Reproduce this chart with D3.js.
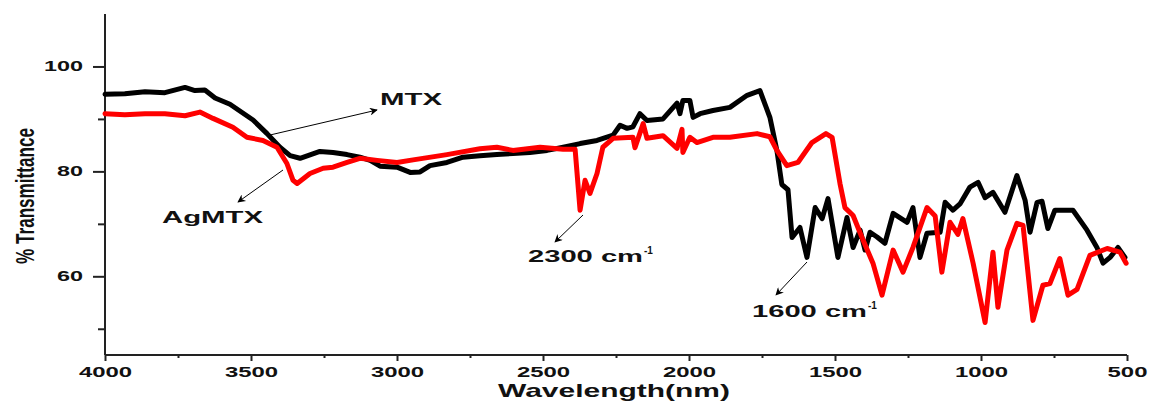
<!DOCTYPE html>
<html>
<head>
<meta charset="utf-8">
<script src="https://cdn.jsdelivr.net/npm/d3@7"></script>
<style>
  html, body { margin: 0; padding: 0; background: #fff; }
  svg { display: block; }
  text { font-family: "Liberation Sans", Arial, sans-serif; }
</style>
</head>
<body>
<svg id="chart" width="1149" height="409"></svg>
<script>
// ---- data (wavenumber, % transmittance) ----
const mtxWave = [4000,3932,3863,3795,3726,3692,3658,3623,3572,3493,3445,3401,3366,3332,3264,3219,3171,3127,3092,3058,3000,2955,2921,2887,2829,2774,2716,2658,2603,2545,2486,2431,2373,2315,2260,2236,2212,2192,2168,2144,2089,2041,2031,2021,1997,1986,1962,1918,1860,1801,1757,1723,1699,1682,1661,1647,1620,1596,1568,1544,1524,1490,1459,1438,1414,1397,1380,1356,1329,1301,1253,1233,1209,1185,1140,1123,1096,1072,1038,1010,986,959,918,877,849,832,808,791,771,747,685,637,603,582,558,531,507];
const mtxValue = [94.7,94.8,95.2,95.0,96.0,95.4,95.5,94.0,92.8,89.8,87.2,84.6,83.0,82.5,83.8,83.6,83.2,82.7,82.1,81.0,80.8,79.8,79.9,81.1,81.7,82.7,83.0,83.2,83.4,83.6,84.0,84.6,85.3,85.9,86.9,88.8,88.2,88.5,91.0,89.7,90.0,93.0,91.0,93.5,93.5,90.3,91.0,91.6,92.2,94.5,95.4,90.3,84.0,77.5,76.5,67.4,69.3,63.6,73.1,71.0,74.8,63.6,71.2,65.5,68.8,65.0,68.4,67.5,66.3,72.0,70.3,73.1,63.6,68.2,68.4,74.1,72.6,73.8,77.0,77.9,75.0,76.0,72.2,79.2,74.5,68.4,74.1,74.3,69.1,72.6,72.6,68.8,65.5,62.5,63.6,65.5,63.6];

const agWave = [4000,3932,3863,3795,3726,3675,3630,3562,3514,3459,3411,3377,3356,3342,3298,3253,3219,3171,3127,3068,3000,2945,2829,2716,2658,2603,2510,2431,2390,2373,2356,2339,2315,2295,2260,2192,2185,2157,2144,2089,2041,2024,2021,1997,1973,1918,1860,1767,1723,1699,1665,1627,1579,1531,1510,1483,1466,1438,1404,1370,1339,1301,1267,1233,1185,1157,1134,1106,1079,1062,1027,986,959,942,911,877,856,822,788,764,730,702,671,627,568,524,503];
const agValue = [91.0,90.8,91.0,91.0,90.6,91.3,90.1,88.4,86.5,85.9,84.6,81.5,78.3,77.7,79.6,80.6,80.8,81.7,82.5,82.1,81.7,82.2,83.2,84.3,84.6,84.0,84.6,84.2,84.2,72.6,78.3,75.8,79.6,84.6,86.3,86.5,84.5,89.1,86.3,86.8,84.4,88.0,83.6,86.5,85.5,86.5,86.5,87.2,86.6,84.0,81.1,81.7,85.5,87.2,86.5,77.7,73.1,71.6,66.9,62.5,56.4,65.0,60.8,65.5,73.1,71.5,60.8,70.3,68.0,71.0,62.5,51.2,64.6,54.1,65.0,70.1,69.7,51.6,58.3,58.6,63.4,56.4,57.5,64.0,65.3,64.6,62.5];

const xMajorTicks = [4000,3500,3000,2500,2000,1500,1000,500];
const xMinorTicks = [3750,3250,2750,2250,1750,1250,750];
const yMajorTicks = [100,80,60];
const yMinorTicks = [90,70,50];

const annotations = [
  {label:"MTX", sup:"", x:380, y:105, w:62, from:[270,135], to:[377,110]},
  {label:"AgMTX", sup:"", x:162, y:223, w:101, from:[283,170], to:[238,202]},
  {label:"2300 cm", sup:"-1", x:528, y:262, w:115, from:[583,215], to:[555,242]},
  {label:"1600 cm", sup:"-1", x:752, y:317, w:115, from:[807,262], to:[776,295]}
];

// ---- layout ----
const svg = d3.select("#chart");
const x = d3.scaleLinear().domain([4000, 500]).range([105, 1127]);
const y = d3.scaleLinear().domain([45, 110]).range([355, 14]);

svg.append("defs").append("marker")
  .attr("id", "arrow").attr("viewBox", "0 0 10 10")
  .attr("refX", 9).attr("refY", 5)
  .attr("markerWidth", 12).attr("markerHeight", 8)
  .attr("markerUnits", "userSpaceOnUse")
  .attr("orient", "auto")
  .append("path").attr("d", "M0,0 L10,5 L0,10 L3,5 Z").attr("fill", "#000");

// axes
const yAxisG = svg.append("g").attr("transform", "translate(105,0)")
  .call(d3.axisLeft(y).tickValues(yMajorTicks).tickSize(12).tickPadding(10).tickFormat(d3.format("d")));
svg.append("g").attr("transform", "translate(105,0)")
  .call(d3.axisLeft(y).tickValues(yMinorTicks).tickSize(7).tickFormat(""))
  .select(".domain").remove();

const xAxisG = svg.append("g").attr("transform", "translate(0,355)")
  .call(d3.axisBottom(x).tickValues(xMajorTicks).tickSize(6).tickPadding(6).tickFormat(d3.format("d")));
svg.append("g").attr("transform", "translate(0,355)")
  .call(d3.axisBottom(x).tickValues(xMinorTicks).tickSize(3).tickFormat(""))
  .select(".domain").remove();

svg.selectAll(".domain").attr("stroke", "#222").attr("stroke-width", 2);
svg.selectAll(".tick line").attr("stroke", "#222").attr("stroke-width", 2);
yAxisG.select(".domain").attr("d", `M0,${y(45)}V${y(110)}`);
xAxisG.select(".domain").attr("d", `M${x(4000)},0H${x(500)}`);

yAxisG.selectAll(".tick text")
  .attr("font-size", 14).attr("font-weight", "bold").attr("fill", "#111")
  .attr("font-family", "Liberation Sans, Arial, sans-serif")
  .attr("textLength", d => String(d).length * 13)
  .attr("lengthAdjust", "spacingAndGlyphs");
xAxisG.selectAll(".tick text")
  .attr("font-size", 14).attr("font-weight", "bold").attr("fill", "#111")
  .attr("font-family", "Liberation Sans, Arial, sans-serif")
  .attr("textLength", d => String(d).length * 13.3)
  .attr("lengthAdjust", "spacingAndGlyphs");

// axis titles
svg.append("text")
  .attr("x", 614).attr("y", 397).attr("text-anchor", "middle")
  .attr("font-size", 19).attr("font-weight", "bold").attr("fill", "#111")
  .attr("textLength", 232).attr("lengthAdjust", "spacingAndGlyphs")
  .text("Wavelength(nm)");
svg.append("text")
  .attr("transform", "translate(34,196) rotate(-90)")
  .attr("text-anchor", "middle")
  .attr("font-size", 26).attr("fill", "#111").attr("font-weight", "bold")
  .attr("textLength", 136).attr("lengthAdjust", "spacingAndGlyphs")
  .text("% Transmittance");

// lines
const line = d3.line().x(d => x(d[0])).y(d => y(d[1]));
const mtx = mtxWave.map((w, i) => [w, mtxValue[i]]);
const ag = agWave.map((w, i) => [w, agValue[i]]);

svg.append("path").datum(mtx).attr("d", line)
  .attr("fill", "none").attr("stroke", "#000").attr("stroke-width", 5)
  .attr("stroke-linejoin", "round").attr("stroke-linecap", "round");
svg.append("path").datum(ag).attr("d", line)
  .attr("fill", "none").attr("stroke", "#ff0000").attr("stroke-width", 5)
  .attr("stroke-linejoin", "round").attr("stroke-linecap", "round");

// annotations
annotations.forEach(a => {
  svg.append("line")
    .attr("x1", a.from[0]).attr("y1", a.from[1])
    .attr("x2", a.to[0]).attr("y2", a.to[1])
    .attr("stroke", "#000").attr("stroke-width", 1)
    .attr("marker-end", "url(#arrow)");
  svg.append("text")
    .attr("x", a.x).attr("y", a.y)
    .attr("font-size", 16).attr("font-weight", "bold").attr("fill", "#111")
    .attr("textLength", a.w).attr("lengthAdjust", "spacingAndGlyphs")
    .text(a.label);
  if (a.sup) {
    svg.append("text")
      .attr("x", a.x + a.w + 1).attr("y", a.y - 8)
      .attr("font-size", 10).attr("font-weight", "bold").attr("fill", "#111")
      .text(a.sup);
  }
});
</script>
</body>
</html>
